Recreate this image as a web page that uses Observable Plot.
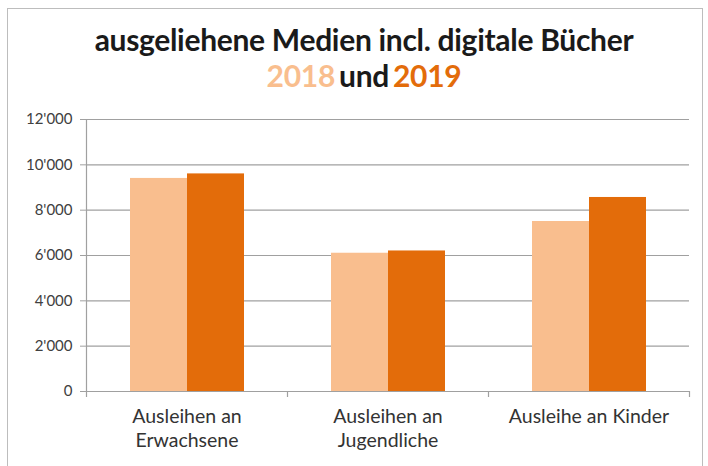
<!DOCTYPE html>
<html>
<head>
<meta charset="utf-8">
<script src="https://cdn.jsdelivr.net/npm/d3@7"></script>
<script src="https://cdn.jsdelivr.net/npm/@observablehq/plot@0.6"></script>
<style>
  html, body { margin: 0; padding: 0; background: #fff; }
  #wrap { position: relative; width: 708px; height: 466px; overflow: hidden; font-family: Lato, "Open Sans", sans-serif; }
  #frame { position: absolute; left: 7px; top: 8px; width: 696px; height: 470px; border: 1px solid #bdbdbd; border-bottom: none; box-sizing: border-box; }
  #title { position: absolute; left: 20px; width: 688px; top: 21px; text-align: center; font-weight: bold; font-size: 30px; line-height: 36px; color: #1a1a1a; letter-spacing: -0.3px; }
  #title .sp { margin-left: -3px; }
  #chart { position: absolute; left: 0; top: 0; }
</style>
</head>
<body>
<div id="wrap">
  <div id="frame"></div>
  <div id="chart"></div>
  <div id="title">ausgeliehene Medien incl. digitale Bücher<br><span style="color:#f9be8e">2018</span><span class="sp"> und </span><span class="sp" style="color:#e36c0a">2019</span></div>
</div>
<script>
const categories = ["Ausleihen an Erwachsene", "Ausleihen an Jugendliche", "Ausleihe an Kinder"];
const categoryLabels = ["Ausleihen an\nErwachsene", "Ausleihen an\nJugendliche", "Ausleihe an Kinder"];
const years = ["2018", "2019"];
const values2018 = [9400, 6100, 7500];
const values2019 = [9600, 6200, 8560];
const yTicks = [0, 2000, 4000, 6000, 8000, 10000, 12000];
const yColors = ["#f9be8e", "#e36c0a"];

const data = [];
categories.forEach((c, i) => {
  data.push({category: c, year: years[0], value: values2018[i]});
  data.push({category: c, year: years[1], value: values2019[i]});
});

const W = 708, H = 466, ML = 86, MR = 19, MT = 119, MB = 75;
const bw = (W - ML - MR) / categories.length;

const fmt = d3.formatLocale({decimal: ".", thousands: "'", grouping: [3], currency: ["", ""]}).format(",");
const labelOf = new Map(categories.map((c, i) => [c, categoryLabels[i]]));

const gray = "#a0a0a0";
const chart = Plot.plot({
  width: W, height: H,
  marginLeft: ML, marginRight: MR, marginTop: MT, marginBottom: MB,
  style: {fontFamily: "Lato, 'Open Sans', sans-serif", background: "transparent"},
  x: {type: "band", domain: categories, paddingInner: 0, paddingOuter: 0},
  y: {domain: [0, 12000]},
  marks: [
    Plot.gridY(yTicks, {stroke: gray, strokeOpacity: 1, strokeWidth: 1.2}),
    Plot.barY(data.filter(d => d.year === years[0]), {x: "category", y: "value", fill: yColors[0], insetLeft: 44, insetRight: bw - 101}),
    Plot.barY(data.filter(d => d.year === years[1]), {x: "category", y: "value", fill: yColors[1], insetLeft: 101, insetRight: bw - 158}),
    Plot.ruleX(categories.slice(0, 1), {x: d => d, dx: -bw / 2, stroke: gray, strokeWidth: 1.2}),
    Plot.ruleX(categories, {x: d => d, dx: -bw / 2, y1: 0, y2: 0, insetBottom: -6, stroke: gray, strokeWidth: 1.2}),
    Plot.ruleX(categories.slice(-1), {x: d => d, dx: bw / 2, y1: 0, y2: 0, insetBottom: -6, stroke: gray, strokeWidth: 1.2}),
    Plot.ruleY([0], {stroke: gray, strokeWidth: 1.2}),
    Plot.axisY({ticks: yTicks, tickFormat: fmt, tickSize: 6, tickPadding: 8, stroke: gray, fontSize: 15, color: "#404040", label: null}),
    Plot.axisX({tickSize: 0, tickPadding: 15, tickFormat: d => labelOf.get(d), fontSize: 19.5, lineHeight: 1.22, color: "#333", label: null})
  ]
});
document.getElementById("chart").appendChild(chart);
</script>
</body>
</html>
